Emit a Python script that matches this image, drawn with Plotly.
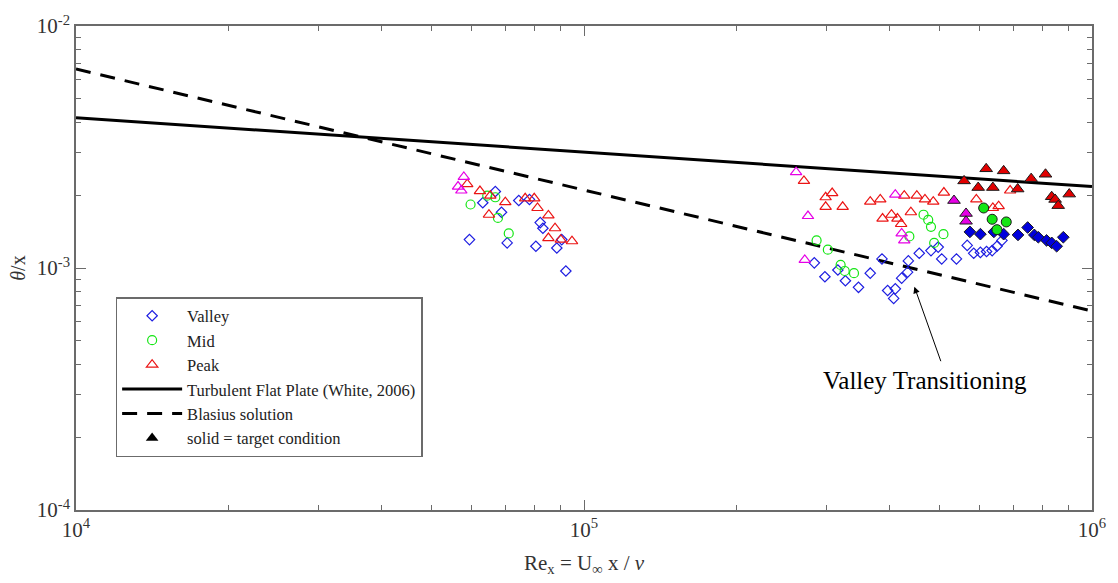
import numpy as np
import plotly.graph_objects as go

# ---------------- data ----------------
# Valley (open blue diamonds)
valley_re = [6.69e4, 6.32e4, 6.88e4, 7.44e4, 7.81e4, 5.95e4, 7.06e4, 8.20e4, 8.30e4, 8.04e4, 8.84e4, 9.04e4, 9.21e4,
             2.84e5, 2.98e5, 3.16e5, 3.27e5, 3.47e5, 3.66e5, 3.86e5, 3.96e5, 4.10e5, 4.07e5, 4.22e5, 4.35e5, 4.335e5,
             4.57e5, 4.82e5, 4.98e5, 5.06e5, 5.41e5, 5.68e5, 5.85e5, 6.03e5, 6.20e5, 6.36e5, 6.50e5, 6.65e5]
valley_th = [2.07e-3, 1.86e-3, 1.70e-3, 1.90e-3, 1.92e-3, 1.31e-3, 1.27e-3, 1.54e-3, 1.46e-3, 1.23e-3, 1.21e-3, 1.31e-3, 9.72e-4,
             1.05e-3, 9.20e-4, 9.81e-4, 8.86e-4, 8.32e-4, 9.52e-4, 1.09e-3, 8.07e-4, 8.20e-4, 7.49e-4, 9.08e-4, 1.07e-3, 9.61e-4,
             1.15e-3, 1.18e-3, 1.22e-3, 1.09e-3, 1.09e-3, 1.24e-3, 1.15e-3, 1.16e-3, 1.17e-3, 1.18e-3, 1.23e-3, 1.30e-3]
# Valley, target condition (filled)
valley_t_re = [5.75e5, 6.03e5, 6.41e5, 6.70e5, 7.15e5, 7.47e5, 7.70e5, 7.84e5, 8.14e5, 8.33e5, 8.52e5, 8.78e5]
valley_t_th = [1.41e-3, 1.38e-3, 1.41e-3, 1.38e-3, 1.37e-3, 1.47e-3, 1.37e-3, 1.34e-3, 1.30e-3, 1.27e-3, 1.23e-3, 1.34e-3]

# Mid (open green circles)
mid_re = [5.98e4, 6.45e4, 6.69e4, 6.77e4, 7.11e4,
          2.87e5, 3.02e5, 3.20e5, 3.26e5, 3.40e5, 4.37e5, 4.66e5, 4.76e5, 4.82e5, 5.10e5, 4.89e5]
mid_th = [1.83e-3, 1.99e-3, 1.96e-3, 1.61e-3, 1.39e-3,
          1.30e-3, 1.19e-3, 1.03e-3, 9.72e-4, 9.52e-4, 1.35e-3, 1.66e-3, 1.58e-3, 1.48e-3, 1.38e-3, 1.27e-3]
mid_t_re = [6.12e5, 6.36e5, 6.50e5, 6.78e5]
mid_t_th = [1.77e-3, 1.59e-3, 1.44e-3, 1.55e-3]

# Peak (open red triangles)
peak_re = [5.89e4, 6.24e4, 6.50e4, 7.00e4, 6.54e4, 7.66e4, 7.98e4, 8.10e4, 8.51e4, 8.77e4, 8.51e4, 9.00e4, 9.47e4,
           2.71e5, 2.99e5, 3.08e5, 2.99e5, 3.23e5, 3.66e5, 3.83e5, 4.27e5, 4.52e5, 4.69e5, 4.87e5,
           3.87e5, 4.03e5, 4.14e5, 4.21e5, 4.40e5, 5.11e5, 5.92e5, 6.38e5, 6.55e5, 6.90e5]
peak_th = [2.22e-3, 2.08e-3, 1.66e-3, 1.87e-3, 1.99e-3, 1.94e-3, 1.94e-3, 1.77e-3, 1.65e-3, 1.46e-3, 1.33e-3, 1.31e-3, 1.29e-3,
           2.29e-3, 1.96e-3, 2.04e-3, 1.79e-3, 1.79e-3, 1.88e-3, 1.92e-3, 1.99e-3, 1.99e-3, 1.92e-3, 1.88e-3,
           1.60e-3, 1.66e-3, 1.60e-3, 1.52e-3, 1.70e-3, 2.05e-3, 1.92e-3, 1.77e-3, 1.80e-3, 2.09e-3]
peak_t_re = [6.19e5, 6.70e5, 5.60e5, 5.97e5, 6.38e5, 7.14e5, 7.59e5, 8.10e5, 8.33e5, 8.46e5, 8.58e5, 9.02e5]
peak_t_th = [2.57e-3, 2.52e-3, 2.29e-3, 2.15e-3, 2.15e-3, 2.12e-3, 2.34e-3, 2.44e-3, 1.97e-3, 1.92e-3, 1.81e-3, 2.02e-3]

# magenta triangles
mag_re = [5.80e4, 5.65e4, 5.735e4, 2.615e5, 2.76e5, 2.72e5, 4.10e5, 4.22e5, 4.27e5]
mag_th = [2.38e-3, 2.17e-3, 2.09e-3, 2.49e-3, 1.64e-3, 1.08e-3, 2.01e-3, 1.39e-3, 1.30e-3]
mag_t_re = [5.35e5, 5.65e5, 5.65e5]
mag_t_th = [1.90e-3, 1.68e-3, 1.56e-3]

# reference correlations (straight lines in log-log, end points)
line_re = [1e4, 1e6]
white_th = [4.18e-3, 2.17e-3]
blasius_th = [6.64e-3, 6.64e-4]

x_tickvals = [1e4, 1e5, 1e6]
x_ticktext = ["10<sup>4</sup>", "10<sup>5</sup>", "10<sup>6</sup>"]
y_tickvals = [1e-4, 1e-3, 1e-2]
y_ticktext = ["10<sup>-4</sup>", "10<sup>-3</sup>", "10<sup>-2</sup>"]
x_minor = [m * 10 ** e for e in (4, 5) for m in range(2, 10)]
y_minor = [m * 10.0 ** e for e in (-4, -3) for m in range(2, 10)]

arrow_tip = (4.47e5, 8.37e-4)
label_pos = (4.69e5, 3.42e-4)

FONT = "Liberation Serif"
BLUE = "rgb(30,30,225)"
GREEN = "rgb(20,230,20)"
RED = "rgb(235,20,20)"
MAG = "rgb(230,0,230)"
AX = "#6b6b6b"

fig = go.Figure()


def open_trace(x, y, sym, col, size, name, show, rank):
    return go.Scatter(x=x, y=y, mode="markers", name=name, showlegend=show, legendrank=rank,
                      marker=dict(symbol=sym + "-open", size=size, color=col, line=dict(width=1.2, color=col)))


def filled_trace(x, y, sym, col, size):
    return go.Scatter(x=x, y=y, mode="markers", showlegend=False,
                      marker=dict(symbol=sym, size=size, color=col, line=dict(width=1, color="#1a1a1a")))


fig.add_trace(go.Scatter(x=line_re, y=white_th, mode="lines", name="Turbulent Flat Plate (White, 2006)",
                         legendrank=4, line=dict(color="black", width=3)))
fig.add_trace(go.Scatter(x=line_re, y=blasius_th, mode="lines", name="Blasius solution",
                         legendrank=5, line=dict(color="black", width=3, dash="15px,10px")))

fig.add_trace(open_trace(valley_re, valley_th, "diamond", BLUE, 8, "Valley", True, 1))
fig.add_trace(open_trace(mid_re, mid_th, "circle", GREEN, 9, "Mid", True, 2))
fig.add_trace(open_trace(peak_re, peak_th, "triangle-up", RED, 10, "Peak", True, 3))
fig.add_trace(open_trace(mag_re, mag_th, "triangle-up", MAG, 10, "mag", False, 10))
fig.add_trace(filled_trace(valley_t_re, valley_t_th, "diamond", "rgb(0,0,220)", 9))
fig.add_trace(filled_trace(mid_t_re, mid_t_th, "circle", "rgb(20,230,20)", 10))
fig.add_trace(filled_trace(peak_t_re, peak_t_th, "triangle-up", "rgb(225,0,0)", 11))
fig.add_trace(filled_trace(mag_t_re, mag_t_th, "triangle-up", MAG, 11))
fig.add_trace(go.Scatter(x=[None], y=[None], mode="markers", name="solid = target condition", legendrank=6,
                         marker=dict(symbol="triangle-up", size=11, color="black")))

fig.add_annotation(x=np.log10(arrow_tip[0]), y=np.log10(arrow_tip[1]), xref="x", yref="y",
                   text="", showarrow=True, ax=27, ay=76, arrowhead=2, arrowsize=1.3,
                   arrowwidth=1, arrowcolor="black")
fig.add_annotation(x=np.log10(label_pos[0]), y=np.log10(label_pos[1]), xref="x", yref="y",
                   text="Valley Transitioning", showarrow=False,
                   font=dict(family=FONT, size=25, color="black"))

axis_common = dict(type="log", showgrid=False, zeroline=False, showline=True, linecolor=AX, linewidth=1.5,
                   mirror="allticks", ticks="inside", ticklen=10, tickwidth=1.2, tickcolor=AX,
                   tickfont=dict(family=FONT, size=21, color="#333"))

fig.update_xaxes(**axis_common, range=[4, 6], tickmode="array", tickvals=x_tickvals, ticktext=x_ticktext,
                 minor=dict(ticks="inside", ticklen=5, tickcolor=AX, tickwidth=1.2, tickvals=x_minor),
                 title=dict(text="Re<sub>x</sub> = U<sub>∞</sub> x / <i>ν</i>", standoff=14,
                            font=dict(family=FONT, size=21, color="#333")))
fig.update_yaxes(**axis_common, range=[-4, -2], tickmode="array", tickvals=y_tickvals, ticktext=y_ticktext,
                 minor=dict(ticks="inside", ticklen=5, tickcolor=AX, tickwidth=1.2, tickvals=y_minor),
                 title=dict(text="<i>θ</i>/x", standoff=6,
                            font=dict(family=FONT, size=20, color="#333")))

fig.update_layout(
    width=1118, height=583,
    margin=dict(l=76, r=19, t=16, b=73),
    plot_bgcolor="white", paper_bgcolor="white",
    font=dict(family=FONT, color="#222"),
    legend=dict(x=0.039, y=0.44, xanchor="left", yanchor="top", bgcolor="white",
                bordercolor=AX, borderwidth=1.5, font=dict(family=FONT, size=16.5, color="#222"),
                itemwidth=60, tracegroupgap=0),
)

fig.write_html("out.html")
